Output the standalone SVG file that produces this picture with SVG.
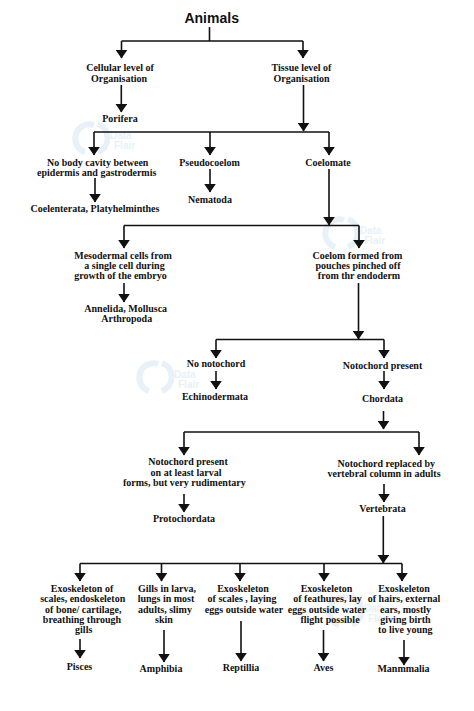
<svg xmlns="http://www.w3.org/2000/svg" width="474" height="711" viewBox="0 0 474 711">
<style>
text{font-family:"Liberation Serif","Times New Roman",serif;font-weight:700;font-size:10px;fill:#111;text-anchor:middle}
.title{font-family:"Liberation Sans",Arial,sans-serif;font-size:14px}
.c{fill:none;stroke:#111;stroke-width:1.6}
.wm{font-family:"Liberation Sans",Arial,sans-serif;fill:#e8f1f8;text-anchor:start}
.wr{fill:none;stroke:#e8f1f8;stroke-width:6}
</style>
<defs>
<marker id="d" markerUnits="userSpaceOnUse" markerWidth="12" markerHeight="9" refX="6" refY="8" viewBox="0 0 12 9"><path d="M0.2 0H11.8L6 8.5Z" fill="#111"/></marker>
<g id="logo"><path class="wr" d="M3 -14A14 14 0 0 0 -6 13"/><path class="wr" d="M7 -15A15 15 0 0 1 7 13"/><text class="wm" x="19" y="0" font-size="17">Data</text><text class="wm" x="23" y="10" font-size="13">Flair</text></g>
</defs>
<g id="watermarks">
<use href="#logo" x="91" y="139"/>
<use href="#logo" x="341" y="234"/>
<use href="#logo" x="155" y="378"/>
<use href="#logo" x="345" y="612"/>
</g>
<g id="connectors">
<path class="c" d="M209.5 27V41M121.5 41H303"/>
<path class="c" d="M121.5 41V58" marker-end="url(#d)"/>
<path class="c" d="M303 41V58" marker-end="url(#d)"/>
<path class="c" d="M121.3 85V112" marker-end="url(#d)"/>
<path class="c" d="M303.5 85V131" marker-end="url(#d)"/>
<path class="c" d="M94 132H329"/>
<path class="c" d="M94 132V155" marker-end="url(#d)"/>
<path class="c" d="M210 132V155" marker-end="url(#d)"/>
<path class="c" d="M329 132V155" marker-end="url(#d)"/>
<path class="c" d="M95 178V202" marker-end="url(#d)"/>
<path class="c" d="M210 169V192" marker-end="url(#d)"/>
<path class="c" d="M329 169V225" marker-end="url(#d)"/>
<path class="c" d="M124 225.5H359"/>
<path class="c" d="M124 225.5V248" marker-end="url(#d)"/>
<path class="c" d="M359 225.5V248" marker-end="url(#d)"/>
<path class="c" d="M124 283V302" marker-end="url(#d)"/>
<path class="c" d="M358.5 283V339" marker-end="url(#d)"/>
<path class="c" d="M216 339.5H384"/>
<path class="c" d="M216 339.5V358" marker-end="url(#d)"/>
<path class="c" d="M384 339.5V358" marker-end="url(#d)"/>
<path class="c" d="M216 371V389" marker-end="url(#d)"/>
<path class="c" d="M384 371V389" marker-end="url(#d)"/>
<path class="c" d="M383.5 411V429" marker-end="url(#d)"/>
<path class="c" d="M184 432H419"/>
<path class="c" d="M184 432V455" marker-end="url(#d)"/>
<path class="c" d="M419 432V455" marker-end="url(#d)"/>
<path class="c" d="M184 494V512" marker-end="url(#d)"/>
<path class="c" d="M384 484V502" marker-end="url(#d)"/>
<path class="c" d="M383.3 516V563" marker-end="url(#d)"/>
<path class="c" d="M80 563.5H402"/>
<path class="c" d="M80 563.5V581" marker-end="url(#d)"/>
<path class="c" d="M161.5 563.5V581" marker-end="url(#d)"/>
<path class="c" d="M240 563.5V581" marker-end="url(#d)"/>
<path class="c" d="M324 563.5V581" marker-end="url(#d)"/>
<path class="c" d="M402 563.5V581" marker-end="url(#d)"/>
<path class="c" d="M80 639V658" marker-end="url(#d)"/>
<path class="c" d="M164 630V662" marker-end="url(#d)"/>
<path class="c" d="M241 621V661" marker-end="url(#d)"/>
<path class="c" d="M323.5 630V661" marker-end="url(#d)"/>
<path class="c" d="M404 640V665" marker-end="url(#d)"/>
</g>
<g id="animals"><text class="title" x="211.7" y="23">Animals</text></g>
<g id="cellular"><text x="120" y="71">Cellular level of</text><text x="119" y="81.7">Organisation</text></g>
<g id="tissue"><text x="301.5" y="71">Tissue level of</text><text x="301.5" y="81.7">Organisation</text></g>
<g id="porifera"><text x="120" y="121.5">Porifera</text></g>
<g id="no-body"><text x="97.7" y="165.5">No body cavity between</text><text x="96.7" y="176">epidermis and gastrodermis</text></g>
<g id="pseudocoelom"><text x="209.5" y="165.5">Pseudocoelom</text></g>
<g id="coelomate"><text x="328" y="165.5">Coelomate</text></g>
<g id="coelenterata"><text x="95" y="212">Coelenterata, Platyhelminthes</text></g>
<g id="nematoda"><text x="210" y="202.5">Nematoda</text></g>
<g id="mesodermal"><text x="123" y="258.7">Mesodermal cells from</text><text x="124.5" y="269">a single cell during</text><text x="120.5" y="279.3">growth of the embryo</text></g>
<g id="coelom"><text x="357.5" y="258.7">Coelom formed from</text><text x="358" y="269">pouches pinched off</text><text x="359" y="279.3">from thr endoderm</text></g>
<g id="annelida"><text x="125.7" y="311.7">Annelida, Mollusca</text><text x="126.7" y="322">Arthropoda</text></g>
<g id="no-notochord"><text x="216" y="366.7">No notochord</text></g>
<g id="echinodermata"><text x="215" y="400">Echinodermata</text></g>
<g id="notochord-present"><text x="382.5" y="368.7">Notochord present</text></g>
<g id="chordata"><text x="382.5" y="401.7">Chordata</text></g>
<g id="rudimentary"><text x="188" y="465.3">Notochord present</text><text x="186" y="475.7">on at least larval</text><text x="184.3" y="486">forms, but very rudimentary</text></g>
<g id="protochordata"><text x="184" y="522.3">Protochordata</text></g>
<g id="replaced"><text x="386.3" y="467">Notochord replaced by</text><text x="384" y="477">vertebral column in adults</text></g>
<g id="vertebrata"><text x="382.5" y="512.3">Vertebrata</text></g>
<g id="exo-fish"><text x="82" y="591.7">Exoskeleton of</text><text x="82.7" y="602">scales, endoskeleton</text><text x="83.3" y="612.5">of bone/ cartilage,</text><text x="82" y="623">breathing through</text><text x="83.7" y="633.3">gills</text></g>
<g id="exo-amphibia"><text x="167" y="591.7">Gills in larva,</text><text x="166" y="602">lungs in most</text><text x="165" y="612.5">adults, slimy</text><text x="164" y="623">skin</text></g>
<g id="exo-reptile"><text x="243" y="591.7">Exoskeleton</text><text x="242" y="602">of scales , laying</text><text x="244" y="612.5">eggs outside water</text></g>
<g id="exo-aves"><text x="326.5" y="591.7">Exoskeleton</text><text x="327.5" y="602">of feathures, lay</text><text x="327" y="612.5">eggs outside water</text><text x="330" y="623">flight possible</text></g>
<g id="exo-mammal"><text x="404" y="591.7">Exoskeleton</text><text x="404" y="602">of hairs, external</text><text x="405.5" y="612.5">ears, mostly</text><text x="405.5" y="623">giving birth</text><text x="405.3" y="633.3">to live young</text></g>
<g id="pisces"><text x="79.5" y="670">Pisces</text></g>
<g id="amphibia"><text x="161" y="671.7">Amphibia</text></g>
<g id="reptillia"><text x="241" y="671">Reptillia</text></g>
<g id="aves"><text x="323.5" y="671">Aves</text></g>
<g id="manmmalia"><text x="403.5" y="671.7">Manmmalia</text></g>
</svg>
